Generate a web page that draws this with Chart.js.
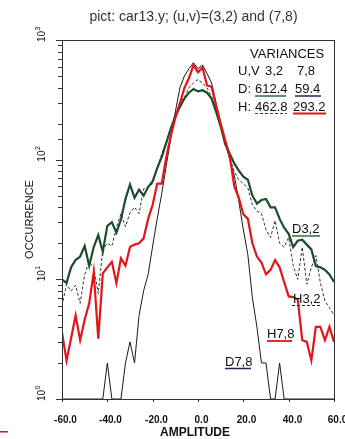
<!DOCTYPE html>
<html>
<head>
<meta charset="utf-8">
<script src="https://cdn.jsdelivr.net/npm/chart.js@4.4.0/dist/chart.umd.min.js"></script>
<style>
  html, body { margin: 0; padding: 0; background: #fff; }
</style>
</head>
<body>
<canvas id="grafico" width="345" height="439"></canvas>
<script>
// amplitude bins (x)
const amplitudes = [-60, -58, -56, -54, -52, -50, -48, -46, -44, -42, -40, -38, -36, -34, -32, -30, -28, -26, -24, -22, -20,
  -18, -16, -14, -12, -10, -8, -6, -4, -2, 0, 2, 4, 6, 8, 10, 12, 14, 16, 18, 20,
  22, 24, 26, 28, 30, 32, 34, 36, 38, 40, 42, 44, 46, 48, 50, 52, 54, 56, 58, 60];

// occurrences
const d32 = [10, 9.3, 12.6, 14.5, 15.5, 19, 13, 18.6, 23.4, 17, 28, 30, 24.5, 31.6, 47, 62, 48, 56, 50, 59, 66,
  85, 105, 138, 182, 229, 275, 324, 363, 389, 372, 380, 363, 324, 251, 190, 135, 112, 93, 81, 72,
  68, 50, 43, 46, 47, 40, 40, 32, 27, 24, 18.6, 21, 21.4, 19.5, 17.8, 12.9, 12.6, 12, 11, 9.5];
const h32 = [6, 9.1, 8, 8.9, 6.3, 11, 14, 12.6, 7.6, 17.8, 20, 19, 27, 35.5, 27.5, 36, 40, 35.5, 57, 59, 63,
  85, 112, 141, 186, 240, 302, 331, 398, 437, 468, 437, 398, 331, 263, 200, 141, 105, 79, 68, 63,
  58, 42, 37, 35.5, 26, 22.4, 31, 20, 18.6, 22.4, 13, 10, 18.6, 9.1, 12.6, 15.8, 9.3, 6.6, 5.8, 5];
const h78 = [3.6, 2.1, 3.2, 5, 3.1, 4.6, 6.3, 11.5, 3.2, 11.2, 12.6, 14, 9.3, 15, 13, 18.6, 19.5, 20, 22, 32, 42,
  63, 63, 105, 158, 224, 295, 398, 479, 617, 537, 589, 417, 407, 282, 200, 145, 107, 60, 48, 35,
  32, 20, 15.5, 13.8, 11, 12, 14.5, 12.6, 9.5, 7.2, 7.1, 6.8, 3.1, 3, 2.1, 4, 4, 3.1, 4, 3];
const d78 = [1, 1, 1, 1, 1, 1, 1, 1, 1, 1, 2, 1, 1, 1, 2, 3, 2, 5, 8, 11, 19,
  32, 52, 89, 151, 251, 398, 500, 575, 646, 575, 617, 525, 437, 295, 200, 138, 100, 74, 45, 26,
  16, 7, 4, 2, 2, 1, 1, 2, 1, 1, 1, 1, 1, 1, 1, 1, 1, 1, 1, 1];

const xTicks = [-60, -40, -20, 0, 20, 40, 60];
const yDecades = [0, 1, 2, 3];
const seriesNames = ["D3,2", "H3,2", "H7,8", "D7,8"];
const varianceCols = ["3,2", "7,8"];
const varD = ["612.4", "59.4"];
const varH = ["462.8", "293.2"];

const toXY = arr => amplitudes.map((a, i) => ({ x: a, y: arr[i] }));

const decor = {
  id: "decor",
  afterDraw(chart) {
    const ctx = chart.ctx;
    const a = chart.chartArea;
    const xs = chart.scales.x;
    const ys = chart.scales.y;
    ctx.save();

    // frame
    ctx.strokeStyle = "#333";
    ctx.lineWidth = 1;
    ctx.strokeRect(a.left + 0.5, a.top + 0.5, a.right - a.left, a.bottom - a.top);

    // y ticks (log minor + major)
    ys.ticks.forEach(t => {
      const py = Math.round(ys.getPixelForValue(t.value)) + 0.5;
      const lg = Math.log10(t.value);
      const major = Math.abs(lg - Math.round(lg)) < 1e-6;
      ctx.beginPath();
      ctx.moveTo(a.left - (major ? 6 : 4), py);
      ctx.lineTo(a.left, py);
      ctx.stroke();
    });

    // y tick labels 10^n, rotated
    ctx.fillStyle = "#111";
    yDecades.forEach(e => {
      const py = ys.getPixelForValue(Math.pow(10, e));
      ctx.save();
      ctx.translate(45, py + 2);
      ctx.rotate(-Math.PI / 2);
      ctx.font = "10px 'Liberation Sans', Arial, sans-serif";
      ctx.textAlign = "left";
      ctx.textBaseline = "alphabetic";
      ctx.fillText("10", 0, 0);
      const w = ctx.measureText("10").width;
      ctx.font = "7px 'Liberation Sans', Arial, sans-serif";
      ctx.fillText(String(e), w + 0.5, -5);
      ctx.restore();
    });

    // x ticks + labels
    ctx.font = "bold 10px 'Liberation Sans', Arial, sans-serif";
    ctx.textAlign = "center";
    xTicks.forEach(v => {
      const px = Math.round(xs.getPixelForValue(v)) + 0.5;
      ctx.beginPath();
      ctx.moveTo(px, a.bottom);
      ctx.lineTo(px, a.bottom + 3);
      ctx.stroke();
      ctx.fillText(v.toFixed(1), px + 3, 423);
    });

    // axis titles
    ctx.font = "bold 12px 'Liberation Sans', Arial, sans-serif";
    ctx.fillText("AMPLITUDE", 195, 436);
    ctx.save();
    ctx.translate(33, (a.top + a.bottom) / 2);
    ctx.rotate(-Math.PI / 2);
    ctx.font = "11px 'Liberation Sans', Arial, sans-serif";
    ctx.fillText("OCCURRENCE", 0, 0);
    ctx.restore();

    // title
    ctx.fillStyle = "#333";
    ctx.font = "14px 'Liberation Sans', Arial, sans-serif";
    ctx.fillText("pict: car13.y; (u,v)=(3,2) and (7,8)", 193.5, 21);

    // variance table
    ctx.fillStyle = "#111";
    ctx.font = "13px 'Liberation Sans', Arial, sans-serif";
    ctx.textAlign = "left";
    ctx.fillText("VARIANCES", 250, 58);
    ctx.fillText("U,V", 238, 75);
    ctx.fillText(varianceCols[0], 265, 75);
    ctx.fillText(varianceCols[1], 297, 75);
    ctx.fillText("D:", 238, 93);
    ctx.fillText(varD[0], 255, 93);
    ctx.fillText(varD[1], 295, 93);
    ctx.fillText("H:", 238, 111);
    ctx.fillText(varH[0], 255, 111);
    ctx.fillText(varH[1], 293, 111);

    const uline = (x1, x2, y, color, w, dash) => {
      ctx.save();
      ctx.strokeStyle = color;
      ctx.lineWidth = w;
      ctx.setLineDash(dash || []);
      ctx.beginPath();
      ctx.moveTo(x1, y);
      ctx.lineTo(x2, y);
      ctx.stroke();
      ctx.restore();
    };
    uline(255, 286, 96, "#2b6b3b", 1.5);
    uline(295, 321, 96, "#1c2a55", 1.5);
    uline(255, 287, 113.5, "#2a3a7a", 1, [3, 2]);
    uline(293, 326, 113.5, "#e3141b", 1.8);

    // series labels inside plot
    ctx.fillText(seriesNames[0], 292, 233);
    uline(292, 320, 236, "#2b6b3b", 1.5);
    ctx.fillText(seriesNames[1], 293, 303);
    uline(292, 322, 305.5, "#222", 1, [3, 2]);
    ctx.fillText(seriesNames[2], 267, 338);
    uline(267, 292, 341, "#e3141b", 1.8);
    ctx.fillText(seriesNames[3], 225, 366);
    uline(225, 251, 368.5, "#1c2a55", 1.5);

    // red mark at lower left edge
    ctx.fillStyle = "#e3141b";
    ctx.fillRect(0, 431, 8, 1.5);

    ctx.restore();
  }
};

new Chart(document.getElementById("grafico").getContext("2d"), {
  type: "line",
  data: {
    datasets: [
      { label: seriesNames[2], data: toXY(h78), borderColor: "#e3141b", borderWidth: 2.2, order: 0 },
      { label: seriesNames[3], data: toXY(d78), borderColor: "#1a1a1a", borderWidth: 1, order: 1 },
      { label: seriesNames[0], data: toXY(d32), borderColor: "#1b4d2a", borderWidth: 2.2, order: 2 },
      { label: seriesNames[1], data: toXY(h32), borderColor: "#333", borderWidth: 1, borderDash: [3, 2], order: 3 }
    ]
  },
  options: {
    responsive: false,
    animation: false,
    devicePixelRatio: 1,
    elements: { point: { radius: 0 }, line: { tension: 0, fill: false } },
    layout: { padding: { left: 54, top: 40, right: 11, bottom: 32 } },
    plugins: { legend: { display: false }, tooltip: { enabled: false }, title: { display: false } },
    scales: {
      x: { type: "linear", min: -60, max: 60, ticks: { display: false }, grid: { display: false }, border: { display: false } },
      y: { type: "logarithmic", min: 1, max: 1000, ticks: { display: false }, grid: { display: false }, border: { display: false } }
    }
  },
  plugins: [decor]
});
</script>
</body>
</html>
